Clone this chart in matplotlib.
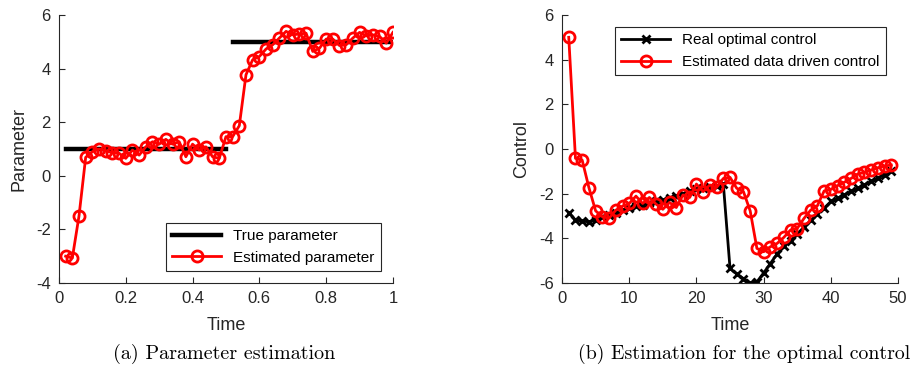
import matplotlib.pyplot as plt
import numpy as np

plt.rcParams['font.family'] = ['Liberation Sans', 'DejaVu Sans']
plt.rcParams['axes.unicode_minus'] = False

# (a) parameter estimation
t_est = np.arange(1, 51) * 0.02
p_est = [-3.0, -3.07, -1.5, 0.69, 0.9, 1.0, 0.93, 0.86, 0.84, 0.65,
         0.96, 0.77, 1.08, 1.27, 1.18, 1.36, 1.18, 1.27, 0.71, 1.18,
         0.96, 1.08, 0.71, 0.65, 1.46, 1.46, 1.87, 3.77, 4.33, 4.45,
         4.73, 4.89, 5.14, 5.39, 5.26, 5.29, 5.32, 4.64, 4.76, 5.10,
         5.10, 4.86, 4.89, 5.14, 5.35, 5.22, 5.26, 5.2, 4.95, 5.35]
true_t1 = [0.02, 0.5]
true_p1 = [1, 1]
true_t2 = [0.52, 1.0]
true_p2 = [5, 5]

# (b) optimal control
k = np.arange(1, 50)
u_est = [5.0, -0.42, -0.5, -1.73, -2.77, -3.03, -3.1, -2.74, -2.56, -2.44,
         -2.11, -2.44, -2.17, -2.47, -2.7, -2.39, -2.62, -2.06, -2.17, -1.57,
         -1.91, -1.61, -1.72, -1.32, -1.27, -1.76, -1.91, -2.77, -4.45, -4.6,
         -4.38, -4.23, -3.96, -3.63, -3.56, -3.11, -2.74, -2.54, -1.88, -1.81,
         -1.64, -1.49, -1.32, -1.12, -1.05, -0.94, -0.84, -0.76, -0.72]
u_real = [-2.85, -3.18, -3.23, -3.26, -3.2, -3.03, -2.95, -2.85, -2.75, -2.65,
          -2.55, -2.5, -2.4, -2.35, -2.3, -2.2, -2.1, -2.0, -1.9, -1.8,
          -1.75, -1.7, -1.65, -1.55, -5.35, -5.6, -5.8, -6.0, -5.95, -5.55,
          -5.13, -4.7, -4.35, -4.1, -3.8, -3.5, -3.2, -2.9, -2.65, -2.35,
          -2.2, -2.05, -1.9, -1.75, -1.6, -1.45, -1.3, -1.15, -1.0]

fig = plt.figure(figsize=(9.17, 3.71), dpi=100)
ax1 = fig.add_axes([0.0643, 0.2372, 0.3642, 0.7224])
ax2 = fig.add_axes([0.6129, 0.2372, 0.3664, 0.7224])

def style(ax):
    for s in ['top', 'right']:
        ax.spines[s].set_visible(False)
    for s in ['left', 'bottom']:
        ax.spines[s].set_color('#262626')
        ax.spines[s].set_linewidth(0.8)
    ax.tick_params(direction='in', length=4, width=0.8, colors='#262626',
                   labelsize=12, pad=6)

ax1.plot(true_t1, true_p1, color='black', lw=3.2, label='True parameter')
ax1.plot(true_t2, true_p2, color='black', lw=3.2)
ax1.plot(t_est, p_est, '-o', color='red', lw=2, ms=8, mew=2,
         mfc='none', label='Estimated parameter')
ax1.set_xlim(0, 1)
ax1.set_ylim(-4, 6)
ax1.set_xticks([0, 0.2, 0.4, 0.6, 0.8, 1])
ax1.set_xticklabels(['0', '0.2', '0.4', '0.6', '0.8', '1'])
ax1.set_xlabel('Time', fontsize=13, color='#262626', labelpad=8)
ax1.set_ylabel('Parameter', fontsize=13, color='#262626', labelpad=6)
style(ax1)
leg1 = ax1.legend(loc='lower right', fontsize=11, numpoints=1, fancybox=False,
                  framealpha=1, edgecolor='#262626', handlelength=3.2,
                  borderaxespad=0.8)
leg1.get_frame().set_linewidth(0.8)

ax2.plot(k, u_real, '-x', color='black', lw=2, ms=6, mew=2,
         label='Real optimal control')
ax2.plot(k, u_est, '-o', color='red', lw=2, ms=8, mew=2, mfc='none',
         label='Estimated data driven control')
ax2.set_xlim(0, 50)
ax2.set_ylim(-6, 6)
ax2.set_xticks([0, 10, 20, 30, 40, 50])
ax2.set_yticks([-6, -4, -2, 0, 2, 4, 6])
ax2.set_xlabel('Time', fontsize=13, color='#262626', labelpad=8)
ax2.set_ylabel('Control', fontsize=13, color='#262626', labelpad=6)
style(ax2)
leg2 = ax2.legend(loc='upper right', fontsize=11, numpoints=1, fancybox=False,
                  framealpha=1, edgecolor='#262626', handlelength=3.2,
                  borderaxespad=0.8)
leg2.get_frame().set_linewidth(0.8)

fig.text(0.244, 0.045, '(a) Parameter estimation', family=['cmr10', 'DejaVu Serif'],
         fontsize=14.5, ha='center', va='center')
fig.text(0.811, 0.045, '(b) Estimation for the optimal control',
         family=['cmr10', 'DejaVu Serif'], fontsize=14.3, ha='center', va='center')

fig.savefig('out.png', dpi=100)
